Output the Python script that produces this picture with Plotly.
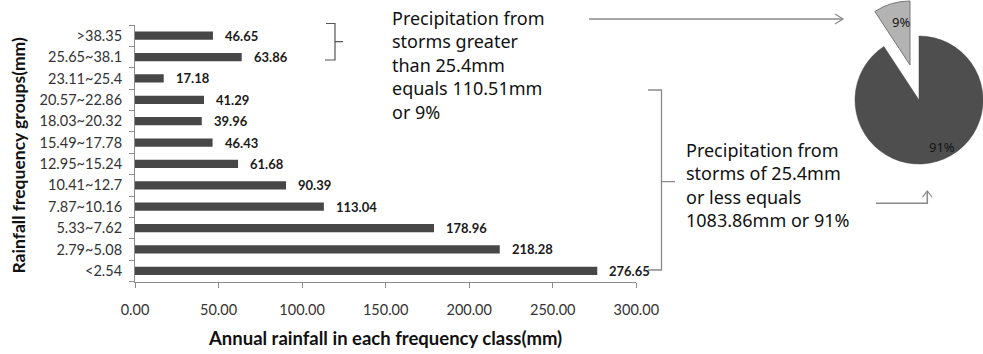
import plotly.graph_objects as go

W, H = 983, 354

# ---------------- data ----------------
categories = ["<2.54", "2.79~5.08", "5.33~7.62", "7.87~10.16", "10.41~12.7",
              "12.95~15.24", "15.49~17.78", "18.03~20.32", "20.57~22.86",
              "23.11~25.4", "25.65~38.1", ">38.35"]
rainfall = [276.65, 218.28, 178.96, 113.04, 90.39, 61.68, 46.43, 39.96,
            41.29, 17.18, 63.86, 46.65]
x_ticks = [0, 50, 100, 150, 200, 250, 300]

pie_labels = ["<= 25.4mm", "> 25.4mm"]
pie_values = [1083.86, 110.51]

text_upper = ["Precipitation from", "storms greater", "than 25.4mm",
              "equals 110.51mm", "or 9%"]
text_lower = ["Precipitation from", "storms of 25.4mm", "or less equals",
              "1083.86mm or 91%"]


def px(x):
    return x / W


def py(y):
    return 1 - y / H


BAR_COLOR = "#474747"
AXIS_COLOR = "#8c8c8c"
TICK_FONT = dict(family="Lato", size=14.5, color="#333333")

fig = go.Figure()

fig.add_trace(go.Bar(
    x=rainfall, y=categories, orientation="h",
    marker=dict(color=BAR_COLOR, line=dict(width=0)),
    showlegend=False, hoverinfo="x+y",
))

# value labels next to bars
annotations = []
for c, v in zip(categories, rainfall):
    annotations.append(dict(
        x=v, y=c, xref="x", yref="y", text=f"<b>{v:.2f}</b>",
        showarrow=False, xanchor="left", yanchor="middle", xshift=10,
        font=dict(family="Lato", size=13, color="#1a1a1a"),
    ))

# pie (main body) with the 91% slice, the 9% slice hidden
cx1, cy1, r1 = 919, 100, 64
fig.add_trace(go.Pie(
    labels=pie_labels, values=pie_values, sort=False,
    direction="clockwise", rotation=0,
    marker=dict(colors=["#4e4e4e", "rgba(0,0,0,0)"],
                line=dict(color=["#444444", "rgba(0,0,0,0)"], width=[0.5, 0])),
    textinfo="none",
    domain=dict(x=[px(cx1 - r1), px(cx1 + r1)], y=[py(cy1 + r1), py(cy1 - r1)]),
    showlegend=False, hoverinfo="label+percent",
))

# exploded 9% slice
cx2, cy2, r2 = 910, 65, 64
fig.add_trace(go.Pie(
    labels=pie_labels, values=pie_values, sort=False,
    direction="clockwise", rotation=0,
    marker=dict(colors=["rgba(0,0,0,0)", "#b3b3b3"],
                line=dict(color=["rgba(0,0,0,0)", "#777777"], width=[0, 1])),
    textinfo="none",
    domain=dict(x=[px(cx2 - r2), px(cx2 + r2)],
                y=[max(0, py(cy2 + r2)), min(1, py(cy2 - r2))]),
    showlegend=False, hoverinfo="label+percent",
))

total = sum(pie_values)
pie_pct = [f"{round(v / total * 100):.0f}%" for v in pie_values]
pie_label_pos = [(942, 147), (901, 22)]
for t, (lx, ly) in zip(pie_pct, pie_label_pos):
    annotations.append(dict(
        x=px(lx), y=py(ly), xref="paper", yref="paper", showarrow=False,
        xanchor="center", yanchor="middle", text=t,
        font=dict(family="Noto Sans", size=13, color="#151515"),
    ))

# text blocks
annotations.append(dict(
    x=px(391), y=py(65), xref="paper", yref="paper", xanchor="left", yanchor="middle",
    align="left", showarrow=False, text="<br>".join(text_upper), borderpad=0,
    font=dict(family="Noto Sans", size=18, color="#111111"),
))
annotations.append(dict(
    x=px(685), y=py(184.5), xref="paper", yref="paper", xanchor="left", yanchor="middle",
    align="left", showarrow=False, text="<br>".join(text_lower), borderpad=0,
    font=dict(family="Noto Sans", size=18, color="#111111"),
))

# axis titles
annotations.append(dict(
    x=px(385), y=py(338), xref="paper", yref="paper", xanchor="center", yanchor="middle",
    showarrow=False, text="<b>Annual rainfall in each frequency class(mm)</b>",
    font=dict(family="Lato", size=18.5, color="#111111"),
))
annotations.append(dict(
    x=px(18.5), y=py(156), xref="paper", yref="paper", xanchor="center", yanchor="middle",
    showarrow=False, textangle=-90, text="<b>Rainfall frequency groups(mm)</b>",
    font=dict(family="Lato", size=17.5, color="#111111"),
))


def path(points):
    return "M " + " L ".join(f"{px(x):.5f},{py(y):.5f}" for x, y in points)


shapes = []
# small bracket
shapes.append(dict(type="path", xref="paper", yref="paper",
                   path=path([(326, 23.5), (335, 23.5), (335, 41.7), (343, 41.7)]),
                   line=dict(color="#555555", width=1.2)))
shapes.append(dict(type="path", xref="paper", yref="paper",
                   path=path([(335, 41.7), (335, 60), (325, 60)]),
                   line=dict(color="#555555", width=1.2)))
# big bracket
shapes.append(dict(type="path", xref="paper", yref="paper",
                   path=path([(648, 90), (661.5, 90), (661.5, 181.7), (675, 181.7)]),
                   line=dict(color="#8a8a8a", width=1.3)))
shapes.append(dict(type="path", xref="paper", yref="paper",
                   path=path([(661.5, 181.7), (661.5, 270), (648, 270)]),
                   line=dict(color="#8a8a8a", width=1.3)))
# top arrow
shapes.append(dict(type="path", xref="paper", yref="paper",
                   path=path([(589, 19), (843, 19)]),
                   line=dict(color="#8a8a8a", width=1.5)))
shapes.append(dict(type="path", xref="paper", yref="paper",
                   path=path([(835, 14), (843, 19), (835, 24)]),
                   line=dict(color="#8a8a8a", width=1.2)))
# bottom arrow
shapes.append(dict(type="path", xref="paper", yref="paper",
                   path=path([(876, 203.3), (927.3, 203.3), (927.3, 191)]),
                   line=dict(color="#8a8a8a", width=1.5)))
shapes.append(dict(type="path", xref="paper", yref="paper",
                   path=path([(922.5, 197), (927.3, 191), (932, 197)]),
                   line=dict(color="#8a8a8a", width=1.2)))

fig.update_layout(
    width=W, height=H,
    margin=dict(l=0, r=0, t=0, b=0, pad=0),
    paper_bgcolor="white", plot_bgcolor="white",
    bargap=0.61,
    xaxis=dict(
        domain=[px(135), px(636.3)], range=[0, 300], tickvals=x_ticks,
        tickformat=".2f", showgrid=False, zeroline=False,
        showline=True, linecolor=AXIS_COLOR, linewidth=1,
        ticks="outside", ticklen=5, tickcolor=AXIS_COLOR, tickwidth=1,
        tickfont=TICK_FONT, ticklabelstandoff=10, automargin=False,
        anchor="y",
    ),
    yaxis=dict(
        domain=[py(281.5), py(25)], type="category",
        categoryorder="array", categoryarray=categories,
        range=[-0.5, len(categories) - 0.5],
        showgrid=False, zeroline=False,
        showline=True, linecolor=AXIS_COLOR, linewidth=1,
        ticks="outside", ticklen=5, tickcolor=AXIS_COLOR, tickwidth=1,
        tickson="boundaries", tickfont=TICK_FONT, ticklabelstandoff=9,
        automargin=False, anchor="x",
    ),
    annotations=annotations,
    shapes=shapes,
)

fig.write_html("out.html")
